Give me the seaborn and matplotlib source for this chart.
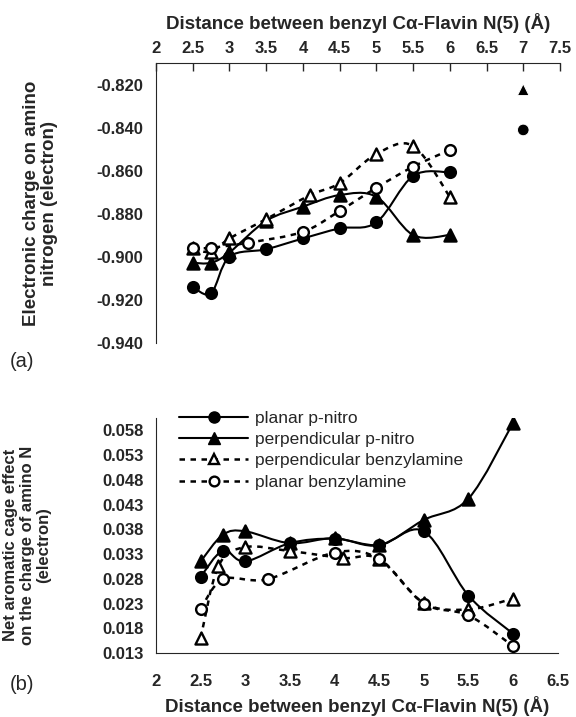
import numpy as np
import pandas as pd
import matplotlib.pyplot as plt
import seaborn as sns
from matplotlib.path import Path
from matplotlib.patches import PathPatch
from matplotlib.lines import Line2D

# ---- data ----
# panel (a): electronic charge on amino nitrogen
a_pn_x = [2.5, 2.75, 3.0, 3.5, 4.0, 4.5, 5.0, 5.5, 6.0]
a_pn_y = [-0.914, -0.917, -0.900, -0.8965, -0.8915, -0.8868, -0.884, -0.8624, -0.8607]
a_pp_x = [2.5, 2.75, 3.0, 3.5, 4.0, 4.5, 5.0, 5.5, 6.0]
a_pp_y = [-0.9028, -0.9028, -0.898, -0.8833, -0.8767, -0.8713, -0.8721, -0.8899, -0.8899]
a_pb_x = [2.5, 2.75, 3.0, 3.5, 4.1, 4.5, 5.0, 5.5, 6.0]
a_pb_y = [-0.8961, -0.8977, -0.8915, -0.8825, -0.8713, -0.8658, -0.8522, -0.8484, -0.8721]
a_lb_x = [2.5, 2.75, 3.25, 4.0, 4.5, 5.0, 5.5, 6.0]
a_lb_y = [-0.8961, -0.8958, -0.8935, -0.8884, -0.8787, -0.8679, -0.8581, -0.8503]
a_iso_x = [7.0, 7.0]
a_iso_y = [-0.841, -0.8223]   # planar p-nitro, perpendicular p-nitro

# panel (b): net aromatic cage effect
b_pn_x = [2.5, 2.75, 3.0, 3.5, 4.0, 4.5, 5.0, 5.5, 6.0]
b_pn_y = [0.0284, 0.0337, 0.0315, 0.0352, 0.0361, 0.0348, 0.0376, 0.0246, 0.0169]
b_pp_x = [2.5, 2.75, 3.0, 3.5, 4.0, 4.5, 5.0, 5.5, 6.0]
b_pp_y = [0.0315, 0.0369, 0.0376, 0.0352, 0.0362, 0.0348, 0.0399, 0.0442, 0.0595]
b_pb_x = [2.5, 2.7, 3.0, 3.5, 4.1, 4.5, 5.0, 5.5, 6.0]
b_pb_y = [0.016, 0.0306, 0.0344, 0.0336, 0.0322, 0.0320, 0.0231, 0.0218, 0.0240]
b_lb_x = [2.5, 2.75, 3.25, 4.0, 4.5, 5.0, 5.5, 6.0]
b_lb_y = [0.0218, 0.0279, 0.0279, 0.0333, 0.0320, 0.0230, 0.0206, 0.0144]

labels = ['planar p-nitro', 'perpendicular p-nitro',
          'perpendicular benzylamine', 'planar benzylamine']

sns.set_style('white')
plt.rcParams['font.family'] = ['Liberation Sans', 'DejaVu Sans']


def smooth_path(x, y):
    # Bezier curve through the points (like a spreadsheet "smoothed line")
    p = np.column_stack([x, y]).astype(float)
    verts = [p[0]]
    codes = [Path.MOVETO]
    n = len(p)
    for i in range(n - 1):
        p0 = p[i - 1] if i > 0 else p[i]
        p3 = p[i + 2] if i + 2 < n else p[i + 1]
        c1 = p[i] + (p[i + 1] - p0) / 6.0
        c2 = p[i + 1] - (p3 - p[i]) / 6.0
        verts += [c1, c2, p[i + 1]]
        codes += [Path.CURVE4] * 3
    return Path(verts, codes)


def draw_series(ax, x, y, marker, filled, ls, lw=1.5):
    ax.add_patch(PathPatch(smooth_path(x, y), fill=False, edgecolor='black',
                           lw=lw, linestyle=ls, zorder=2))
    df = pd.DataFrame({'x': x, 'y': y})
    sns.scatterplot(data=df, x='x', y='y', ax=ax, marker=marker,
                    s=60 if marker == 'o' else 75,
                    color='black' if filled else 'white',
                    edgecolor='black', linewidth=1.7, zorder=3, legend=False)


fig = plt.figure(figsize=(5.76, 7.17), dpi=100)
ax1 = fig.add_axes([0.2708, 0.522, 0.7014, 0.3897])
ax2 = fig.add_axes([0.2708, 0.0893, 0.6974, 0.3277])

dash = (0, (2.2, 2.2))

# ---- panel (a) ----
draw_series(ax1, a_pn_x, a_pn_y, 'o', True, '-')
draw_series(ax1, a_pp_x, a_pp_y, '^', True, '-')
draw_series(ax1, a_pb_x, a_pb_y, '^', False, dash, lw=1.8)
draw_series(ax1, a_lb_x, a_lb_y, 'o', False, dash, lw=1.8)
iso = pd.DataFrame({'x': a_iso_x, 'y': a_iso_y, 'm': ['o', '^']})
sns.scatterplot(data=iso, x='x', y='y', style='m', markers={'o': 'o', '^': '^'},
                ax=ax1, color='black', s=70, legend=False, zorder=3)

ax1.set_xlim(2, 7.5)
ax1.set_ylim(-0.940, -0.810)
ax1.set_xticks(np.arange(2, 7.51, 0.5))
ax1.set_xticklabels(['2', '2.5', '3', '3.5', '4', '4.5', '5', '5.5', '6', '6.5', '7', '7.5'])
ax1.set_yticks(np.arange(-0.94, -0.819, 0.02))
ax1.set_yticklabels(['%.3f' % v for v in np.arange(-0.94, -0.819, 0.02)])
ax1.xaxis.tick_top()
ax1.xaxis.set_label_position('top')
ax1.tick_params(axis='x', direction='in', length=6, width=1, pad=5)
ax1.tick_params(axis='y', direction='out', length=5, width=1, pad=4)
for s in ['bottom', 'right']:
    ax1.spines[s].set_visible(False)
ax1.set_xlabel('Distance between benzyl C\u03b1-Flavin N(5) (\u00c5)',
               fontsize=13.5, fontweight='bold', labelpad=9)
ax1.set_ylabel('Electronic charge on amino\nnitrogen (electron)',
               fontsize=13.5, fontweight='bold', linespacing=1.05)
ax1.yaxis.set_label_coords(-0.243, 0.5)

# ---- panel (b) ----
draw_series(ax2, b_pn_x, b_pn_y, 'o', True, '-')
draw_series(ax2, b_pp_x, b_pp_y, '^', True, '-')
draw_series(ax2, b_pb_x, b_pb_y, '^', False, dash, lw=1.8)
draw_series(ax2, b_lb_x, b_lb_y, 'o', False, dash, lw=1.8)

ax2.set_xlim(2, 6.5)
ax2.set_ylim(0.013, 0.0605)
ax2.set_xticks(np.arange(2, 6.51, 0.5))
ax2.set_xticklabels(['2', '2.5', '3', '3.5', '4', '4.5', '5', '5.5', '6', '6.5'])
ax2.set_yticks(np.arange(0.013, 0.0585, 0.005))
ax2.set_yticklabels(['%.3f' % v for v in np.arange(0.013, 0.0585, 0.005)])
ax2.tick_params(axis='x', direction='out', length=5, width=1, pad=10)
ax2.tick_params(axis='y', direction='out', length=5, width=1, pad=4)
for s in ['top', 'right']:
    ax2.spines[s].set_visible(False)
ax2.set_xlabel('Distance between benzyl C\u03b1-Flavin N(5) (\u00c5)',
               fontsize=13.5, fontweight='bold', labelpad=5)
ax2.set_ylabel('Net aromatic cage effect\non the charge of amino N\n(electron)',
               fontsize=12, fontweight='bold', linespacing=1.1)
ax2.yaxis.set_label_coords(-0.262, 0.46)

for ax in (ax1, ax2):
    for t in ax.get_xticklabels() + ax.get_yticklabels():
        t.set_fontweight('bold')
        t.set_fontsize(12)

handles = [
    Line2D([], [], color='black', lw=1.5, marker='o', markersize=8),
    Line2D([], [], color='black', lw=1.5, marker='^', markersize=8.5),
    Line2D([], [], color='black', lw=1.8, ls=dash, marker='^', markersize=7.5,
           markerfacecolor='white', markeredgewidth=1.7),
    Line2D([], [], color='black', lw=1.8, ls=dash, marker='o', markersize=7,
           markerfacecolor='white', markeredgewidth=1.7),
]
ax2.legend(handles, labels, loc='upper left', bbox_to_anchor=(0.04, 1.06),
           frameon=False, fontsize=12.5, handlelength=4.0, handletextpad=0.35,
           labelspacing=0.35, borderaxespad=0)

fig.text(0.017, 0.488, '(a)', fontsize=14.5)
fig.text(0.017, 0.038, '(b)', fontsize=14.5)

fig.savefig('out.png', dpi=100)
